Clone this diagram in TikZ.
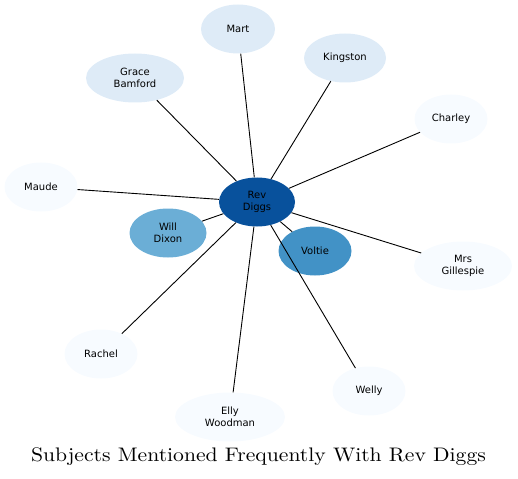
\documentclass[tikz,border=0pt]{standalone}
\usepackage{fontspec}
\usepackage{graphicx}
\newfontfamily\nodefont{DejaVu Sans}
\newfontfamily\titlefont{lmroman10-regular}[Extension=.otf]
\usetikzlibrary{shapes.geometric}
\definecolor{cDark}{HTML}{08519C}
\definecolor{cMid}{HTML}{4292C6}
\definecolor{cWill}{HTML}{6BAED6}
\definecolor{cLight}{HTML}{DEEBF7}
\definecolor{cPale}{HTML}{F7FBFF}
\tikzset{
  ent/.style={ellipse, draw=none, inner sep=0pt, minimum width=#1, minimum height=49pt, align=center,
    font=\nodefont\fontsize{10}{11.5}\selectfont, text=black},
  ent/.default=73pt,
  link/.style={draw=black, line width=0.9pt},
  titletext/.style={font=\titlefont\fontsize{19.6}{23}\selectfont, inner sep=0pt, anchor=base},
}
\begin{document}
\begin{tikzpicture}[x=1pt,y=-1pt]
\useasboundingbox (0,0) rectangle (518,478);
\node[ent=76pt, fill=cDark] (rev) at (257,202) {Rev\\Diggs};
\node[ent=74pt, fill=cLight] (mart) at (238,29) {Mart};
\node[ent=98pt, fill=cLight] (grace) at (135,78) {Grace\\Bamford};
\node[ent=82pt, fill=cLight] (king) at (345,58) {Kingston};
\node[ent=73pt, fill=cPale] (charley) at (451,119) {Charley};
\node[ent=73pt, fill=cPale] (maude) at (41,187) {Maude};
\node[ent=77pt, fill=cWill] (will) at (168,233) {Will\\Dixon};
\node[ent=73pt, fill=cMid] (voltie) at (315,251) {Voltie};
\node[ent=98pt, fill=cPale] (mrs) at (463,266) {Mrs\\Gillespie};
\node[ent=73pt, fill=cPale] (rachel) at (101,354) {Rachel};
\node[ent=110pt, fill=cPale] (elly) at (230,417) {Elly\\Woodman};
\node[ent=73pt, fill=cPale] (welly) at (369,391) {Welly};
\foreach \t in {mart,grace,king,charley,maude,will,voltie,mrs,rachel,elly,welly}
  \draw[link] (rev) -- (\t);
\node[titletext] (title) at (258.5,461.7) {\scalebox{1.105}[1]{Subjects Mentioned Frequently With Rev Diggs}};
\end{tikzpicture}
\end{document}
